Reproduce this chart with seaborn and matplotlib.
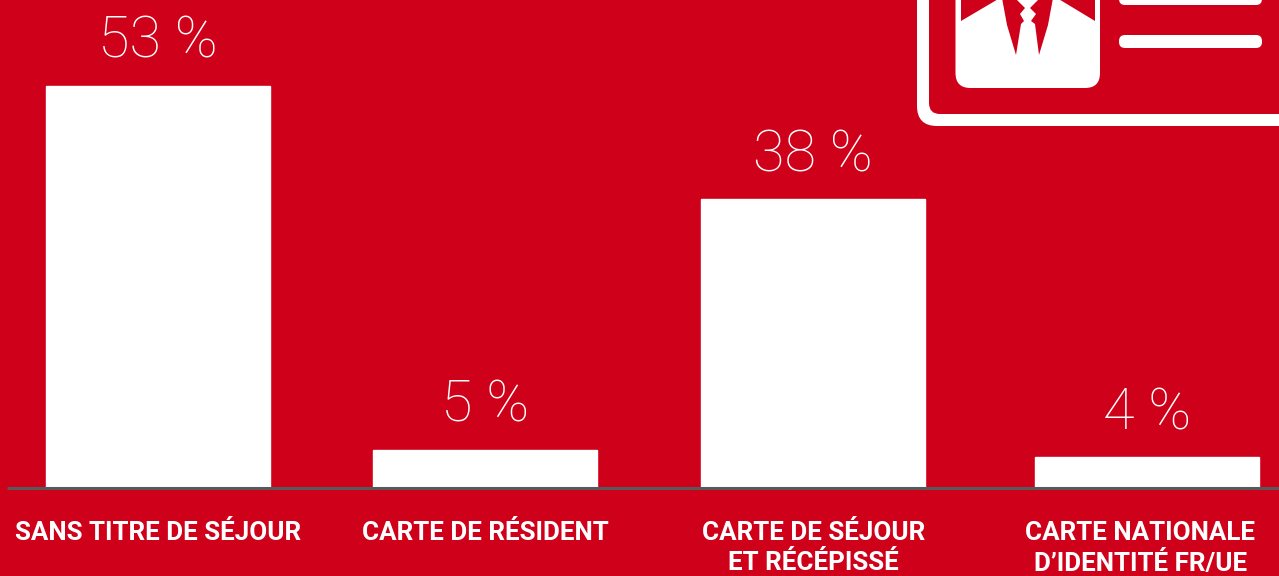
import matplotlib
matplotlib.use('Agg')
import matplotlib.pyplot as plt
import matplotlib.transforms as mtrans
from matplotlib.patches import FancyBboxPatch, Polygon
import seaborn as sns

# donnees
categories = ['SANS TITRE DE SÉJOUR', 'CARTE DE RÉSIDENT',
              'CARTE DE SÉJOUR\nET RÉCÉPISSÉ', 'CARTE NATIONALE\nD’IDENTITÉ FR/UE']
values = [53, 5, 38, 4]
value_labels = ['53 %', '5 %', '38 %', '4 %']

RED = '#CF0019'
W, H = 1279, 576

sns.set_theme(style='white')
plt.rcParams['font.family'] = ['Roboto', 'DejaVu Sans']

fig = plt.figure(figsize=(W / 100, H / 100), dpi=100, facecolor=RED)
ax = fig.add_axes([7 / W, (H - 487.5) / H, (W - 7) / W, 487.5 / H], facecolor=RED)

sns.barplot(x=categories, y=values, color='white', saturation=1, width=0.68, ax=ax)
ax.set_xlim(-0.4596, 3.399)
ax.set_ylim(0, 487.5 / 7.58)

# les barres ne sont pas tout a fait regulieres dans l'original
step = 329.67
for bar, nudge in zip(ax.patches, [-0.3, -3, -4.8, -0.3]):
    bar.set_x(bar.get_x() + nudge / step)

for bar, lab in zip(ax.patches, value_labels):
    ax.annotate(lab, (bar.get_x() + bar.get_width() / 2, bar.get_height()),
                xytext=(0, 16), textcoords='offset pixels', ha='center', va='bottom',
                color='white', fontsize=41.5, fontweight=100)

sns.despine(ax=ax, left=True)
ax.spines['bottom'].set_color('#58595B')
ax.spines['bottom'].set_linewidth(2.2)
ax.spines['bottom'].set_capstyle('butt')
ax.set_yticks([])
ax.tick_params(axis='x', length=0, pad=24)
ax.set_xticks(range(len(categories)))
ax.set_xticklabels(categories, color='white', fontsize=18.7, fontweight='bold', linespacing=1.3)
for tick, nudge in zip(ax.get_xticklabels(), [0, -2.5, -4.5, -7]):
    tick.set_transform(tick.get_transform() + mtrans.Affine2D().translate(nudge, 0))

# pictogramme de la carte, en pixels depuis le haut a gauche
px = mtrans.Affine2D().scale(1, -1).translate(0, H)


def rbox(x0, y0, x1, y1, r, color):
    fig.add_artist(FancyBboxPatch((x0 + r, y0 + r), x1 - x0 - 2 * r, y1 - y0 - 2 * r,
                                  boxstyle=f'round,pad={r},rounding_size={r}',
                                  fc=color, ec='none', transform=px, clip_on=False))


def poly(pts, color):
    fig.add_artist(Polygon(pts, closed=True, fc=color, ec='none', transform=px))


rbox(917, -60, 1340, 126, 20, 'white')
rbox(929, -60, 1340, 114, 11, RED)
rbox(955.5, -40, 1100, 88, 15, 'white')
rbox(1119, -10, 1262, 5, 6, 'white')
rbox(1119, 35, 1262, 48, 6, 'white')
poly([(961, -2), (961, 21), (1000, -2)], RED)
poly([(1095, -2), (1095, 21), (1057, -2)], RED)
poly([(1002, -2), (1007, 25), (1016, 55), (1021, 24), (1024, 21), (1020, 14), (1025, 8), (1015, -2)], RED)
poly([(1053, -2), (1048, 25), (1039, 55), (1035, 24), (1031, 21), (1036, 14), (1030, 8), (1040, -2)], RED)

fig.savefig('out.png', dpi=100, facecolor=RED)
